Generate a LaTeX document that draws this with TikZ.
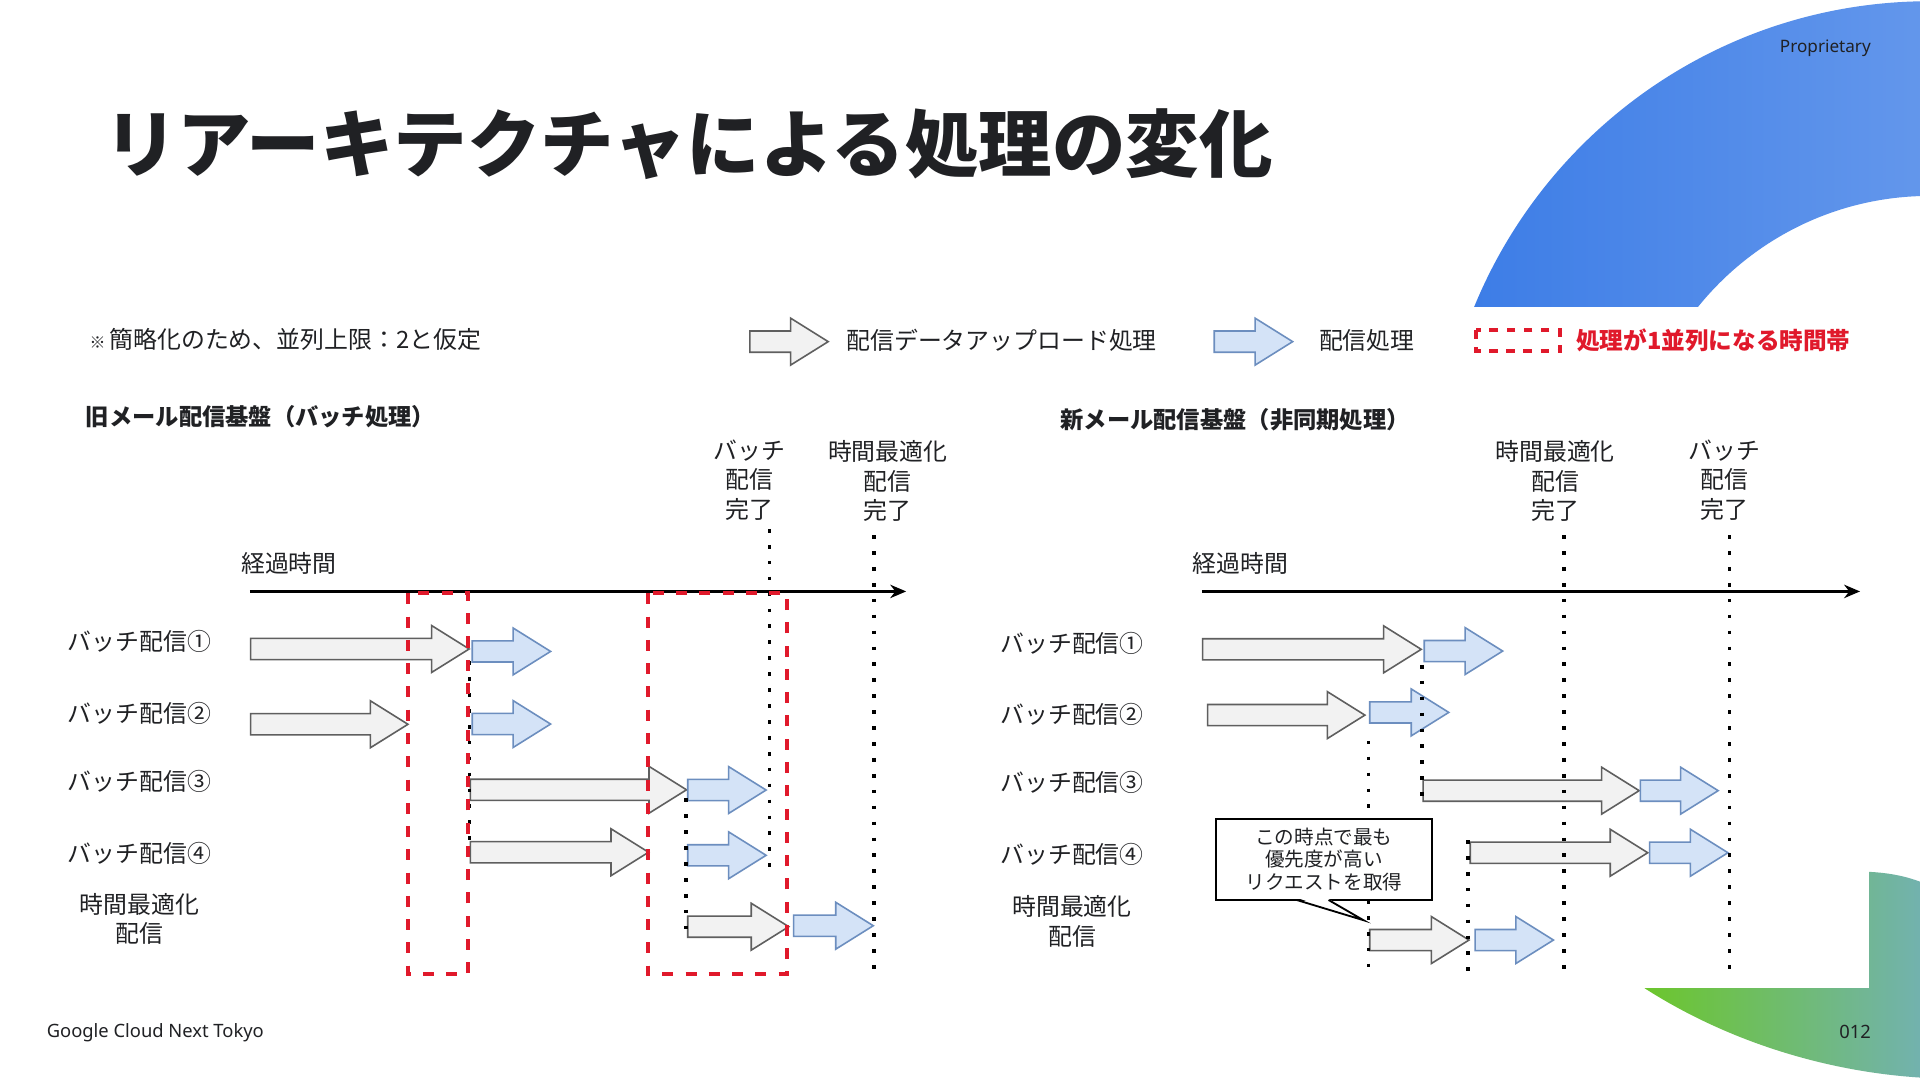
\documentclass[tikz,border=0pt]{standalone}
\usepackage{fontspec}
\setmainfont{Noto Sans CJK JP}
\newfontfamily\latinfont{Noto Sans}
\usetikzlibrary{shapes.arrows,arrows.meta}

\definecolor{ink}{HTML}{202124}
\definecolor{upfill}{HTML}{F2F2F2}
\definecolor{upedge}{HTML}{5F5F5F}
\definecolor{dlfill}{HTML}{D4E3F7}
\definecolor{dledge}{HTML}{6C8EBF}
\definecolor{busyred}{HTML}{E0192B}
\definecolor{ringdark}{HTML}{3A7BE6}
\definecolor{ringlight}{HTML}{8DB3F1}
\definecolor{leafgreen}{HTML}{6CC62C}
\definecolor{leafteal}{HTML}{72B2AE}

\tikzset{
  lbl/.style={font=\fontsize{19.5}{24}\selectfont, text=ink, align=center, inner sep=0pt},
  head/.style={font=\bfseries\fontsize{19}{23}\selectfont, text=ink, anchor=west, inner sep=0pt},
  blockarrow/.style={single arrow, anchor=tail, inner sep=0pt, inner ysep=8pt,
    single arrow head extend=10.5pt, single arrow tip angle=64, line width=1.3pt},
  upload/.style={blockarrow, draw=upedge, fill=upfill},
  deliver/.style={blockarrow, draw=dledge, fill=dlfill},
  busy/.style={draw=busyred, line width=3.3pt, dash pattern=on 9pt off 10pt},
  tick/.style={line width=3pt, dash pattern=on 3pt off 10pt},
  timeaxis/.style={line width=1.8pt, -{Stealth[length=13pt,width=11pt]}},
  memo/.style={draw, line width=1.5pt, fill=white, minimum width=176pt, minimum height=66pt,
    align=center, inner sep=0pt, font=\fontsize{16}{18.6}\selectfont, text=ink}
}

\begin{document}
\begin{tikzpicture}[x=1pt,y=-1pt]
  \useasboundingbox (0,0) rectangle (1568,882);
  \fill[white] (0,0) rectangle (1568,882);

  % background shapes
  \begin{scope}
    \clip (1150,0) rectangle (1568,250);
    \shade[even odd rule, left color=ringdark, right color=ringlight]
      (1576,403) circle[radius=402] (1576,403) circle[radius=243];
  \end{scope}
  \shade[left color=leafgreen, right color=leafteal]
    (1343,807) -- (1526.5,807) -- (1526.5,712) .. controls (1545,713) and (1557,716) .. (1568,720)
    -- (1568,882) -- (1568,880) .. controls (1490,875) and (1410,850) .. (1343,807) -- cycle;

  % title and footer
  \node[anchor=west, inner sep=0pt, text=ink, font=\bfseries\fontsize{60}{64}\selectfont] (title) at (85,118) {リアーキテクチャによる処理の変化};
  \node[anchor=east, inner sep=0pt, text=ink, font=\latinfont\fontsize{14}{16}\selectfont] (prop) at (1528,39) {Proprietary};
  \node[anchor=west, inner sep=0pt, text=ink, font=\latinfont\fontsize{15}{18}\selectfont] (event) at (38,843) {Google Cloud Next Tokyo};
  \node[anchor=east, inner sep=0pt, text=ink, font=\latinfont\fontsize{15}{18}\selectfont] (page) at (1528,843) {012};

  % legend
  \node[lbl, anchor=west] (note) at (73,277) {{\fontsize{13}{16}\selectfont ※}\,簡略化のため、並列上限：2と仮定};
  \node[upload, minimum height=64] (keyup) at (611.7,279) {};
  \node[lbl, anchor=west] (keyuptext) at (691,278) {配信データアップロード処理};
  \node[deliver, minimum height=64] (keydl) at (991,279) {};
  \node[lbl, anchor=west] (keydltext) at (1077,278) {配信処理};
  \draw[busy, dash pattern=on 7pt off 7pt] (1205.6,269.5) rectangle (1274,287);
  \node[lbl, anchor=west, text=busyred, font=\bfseries\fontsize{19.3}{23}\selectfont] (keybusy) at (1287,278) {処理が1並列になる時間帯};

  % old platform
  \node[head] (oldtitle) at (70,340) {旧メール配信基盤（バッチ処理）};
  \node[lbl] (oldbatchdone) at (612,392) {バッチ\\配信\\完了};
  \node[lbl] (oldoptdone) at (725,393) {時間最適化\\配信\\完了};
  \node[lbl] (oldtime) at (236,460) {経過時間};
  \coordinate (oldt0) at (204,483);
  \coordinate (oldt1) at (740,483);
  \draw[timeaxis] (oldt0) -- (oldt1);
  \node[lbl] (oldl1) at (114,524) {バッチ配信①};
  \node[lbl] (oldl2) at (114,582.6) {バッチ配信②};
  \node[lbl] (oldl3) at (114,637.8) {バッチ配信③};
  \node[lbl] (oldl4) at (114,697) {バッチ配信④};
  \node[lbl] (oldl5) at (114,750.6) {時間最適化\\配信};
  \foreach \n/\x/\y/\len in {o1/204/530/178.5, o2/204/591.5/128.5, o3/383.5/645/176.5,
                             o4/383.5/696/145.5, o5/561/756.8/82.5}
    \node[upload, minimum height=\len] (\n u) at (\x,\y) {};
  \foreach \n/\x/\y/\len in {o1/385/532/64, o2/385/591.3/64, o3/561/645.2/64,
                             o4/561/698.5/64, o5/647.5/756/65}
    \node[deliver, minimum height=\len] (\n d) at (\x,\y) {};
  \foreach \x/\top/\bot in {383.5/540/690, 560/652/762, 628.5/432/708, 713.5/437/795}
    \draw[tick] (\x,\top) -- (\x,\bot);
  \draw[busy] (333.5,484.6) rectangle (382.5,795.7);
  \draw[busy] (529,484.6) rectangle (642.5,795.7);

  % new platform
  \node[head] (newtitle) at (866,343) {新メール配信基盤（非同期処理）};
  \node[lbl] (newoptdone) at (1270,393) {時間最適化\\配信\\完了};
  \node[lbl] (newbatchdone) at (1408,392) {バッチ\\配信\\完了};
  \node[lbl] (newtime) at (1013,460) {経過時間};
  \coordinate (newt0) at (981.5,483);
  \coordinate (newt1) at (1519,483);
  \draw[timeaxis] (newt0) -- (newt1);
  \node[lbl] (newl1) at (875.5,525.4) {バッチ配信①};
  \node[lbl] (newl2) at (875.5,583.4) {バッチ配信②};
  \node[lbl] (newl3) at (875.5,639.2) {バッチ配信③};
  \node[lbl] (newl4) at (875.5,697.5) {バッチ配信④};
  \node[lbl] (newl5) at (875.5,752.4) {時間最適化\\配信};
  \foreach \n/\x/\y/\len in {n1/981.5/530.3/178.5, n2/985.5/584/128.5, n3/1161.5/645.7/176.5,
                             n4/1200/696.4/145, n5/1118/767.7/81}
    \node[upload, minimum height=\len] (\n u) at (\x,\y) {};
  \foreach \n/\x/\y/\len in {n1/1162.5/531.7/64, n2/1118/581.8/64.5, n3/1339/645.7/63.5,
                             n4/1346.5/696.4/64, n5/1204/767.7/64}
    \node[deliver, minimum height=\len] (\n d) at (\x,\y) {};
  \foreach \x/\top/\bot in {1117.5/605/794, 1161.5/543/650, 1199/686/795,
                            1277.5/437/794, 1412.5/437/794}
    \draw[tick] (\x,\top) -- (\x,\bot);

  % callout
  \node[memo] (pick) at (1081.2,701.8) {この時点で最も\\優先度が高い\\リクエストを取得};
  \coordinate (picktip) at (1113.5,751.5);
  \fill[white] (1060,733.5) -- (picktip) -- (1084,733.5) -- cycle;
  \draw[line width=1.5pt] (1059,735) -- (picktip) -- (1085,735);
\end{tikzpicture}
\end{document}
